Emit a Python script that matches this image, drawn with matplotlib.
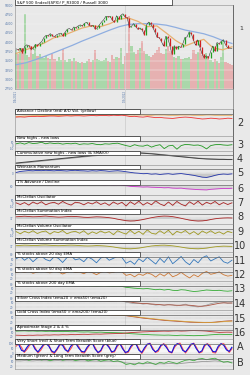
import numpy as np
import matplotlib
matplotlib.use("Agg")
import matplotlib.pyplot as plt
from matplotlib.patches import Rectangle

# weekly S&P 500 closes, Jan 2021 - Dec 2022
closes = [3825, 3801, 3841, 3714, 3887, 3934, 3907, 3811, 3842, 3943, 3913, 3975,
          4019, 4128, 4185, 4180, 4233, 4174, 4156, 4204, 4230, 4247, 4167, 4281, 4352,
          4369, 4327, 4411, 4395, 4437, 4468, 4441, 4509, 4535, 4458, 4433, 4455, 4357,
          4391, 4471, 4545, 4605, 4698, 4683, 4698, 4595, 4538, 4712, 4620, 4725, 4766,
          4677, 4662, 4398, 4432, 4500, 4419, 4349, 4385, 4329, 4204, 4463, 4543,
          4488, 4392, 4272, 4132, 4123, 4023, 3901, 4158, 4108, 3901, 3675, 3912,
          3825, 3899, 3863, 3962, 4130, 4145, 4280, 4228, 4058, 3924, 4067, 3873, 3693, 3586,
          3640, 3583, 3752, 3901, 3771, 3993, 3965, 4026, 4071, 3934, 3852, 3844, 3839]
volume = [8.5, 7.8, 9.0, 9.0, 16.5, 7.5, 7.0, 9.5, 7.8, 8.8, 7.2, 7.6, 7.0, 6.8, 7.3, 6.9, 6.5,
          7.8, 6.6, 6.2, 7.0, 6.4, 8.9, 6.3, 6.0, 6.5, 6.1, 6.8, 6.2, 6.0, 5.8, 6.0, 5.7, 6.2,
          6.6, 6.0, 6.4, 8.5, 6.5, 6.3, 6.1, 6.4, 6.8, 6.2, 6.0, 7.5, 6.6, 7.0, 6.8, 9.0, 5.5,
          7.2, 8.0, 16.0, 9.5, 8.2, 7.8, 8.5, 9.0, 10.5, 8.4, 7.8, 7.2, 7.0, 7.5, 8.0, 8.6, 9.2,
          8.0, 7.6, 8.8, 9.5, 8.4, 7.8, 7.0, 6.8, 7.2, 6.6, 6.5, 6.8, 6.9, 7.0, 6.6, 8.6, 7.8,
          8.2, 8.9, 7.5, 7.8, 7.9, 7.2, 6.4, 6.0, 6.5, 6.2, 5.8, 7.0, 10.5, 6.0, 5.8, 5.6, 5.2]
# monthly moving averages
ma50 = [3700, 3800, 3880, 3980, 4120, 4180, 4280, 4380, 4440, 4420, 4500, 4620,
        4650, 4560, 4420, 4440, 4250, 4050, 3900, 4000, 4080, 3850, 3800, 3880]
ma200 = [3400, 3450, 3530, 3620, 3720, 3820, 3920, 4030, 4130, 4230, 4330, 4420,
         4480, 4500, 4500, 4490, 4460, 4400, 4330, 4280, 4230, 4150, 4050, 3970]
price_ticks = [2750, 3000, 3250, 3500, 3750, 4000, 4250, 4500, 4750, 5000]
date_labels = ["1/4/2021", "1/3/2022"]

ad_vol = [73, 73, 74, 74, 75, 75, 75, 76, 76, 76, 76, 77, 77, 77, 77, 77, 78, 78, 78, 78, 78, 78, 79, 79, 79, 79,
          78, 78, 78, 78, 78, 77, 77, 78, 78, 78, 77, 77, 77, 78, 78, 78, 77, 77, 77, 78, 78, 77, 77, 77, 77, 77]
ad_line = [70, 71, 70, 72, 72, 73, 72, 73, 74, 74, 73, 74, 75, 74, 75, 75, 74, 75, 76, 75, 76, 76, 75, 77, 76, 77,
           75, 72, 73, 71, 70, 72, 70, 68, 69, 67, 66, 65, 67, 69, 70, 69, 67, 65, 63, 64, 66, 65, 63, 64, 66, 65]
nhnl = [20, 35, 15, 40, 25, 30, 45, 20, 35, 25, 30, 15, 25, 20, 30, 10, 20, 15, 25, 10, 5, 20, 15, 25, 30, 10,
        -10, -25, 5, -15, -20, 0, -35, -10, 5, -60, -15, -5, -70, -10, 10, 5, -5, 0, -20, -65, -10, 5, 10, 0, -5, 5]
cum_nhnl = [14, 17, 20, 23, 26, 29, 32, 35, 38, 41, 44, 47, 50, 53, 56, 59, 62, 65, 68, 71, 74, 77, 80, 83, 86, 89,
            89, 88, 87, 86, 84, 82, 80, 77, 74, 71, 68, 65, 62, 59, 56, 53, 50, 47, 45, 43, 42, 41, 40, 40, 39, 39]
cum_sma = [10, 13, 16, 19, 22, 25, 28, 31, 34, 37, 40, 43, 46, 49, 52, 55, 58, 61, 64, 67, 70, 73, 76, 79, 82, 85,
           87, 88, 88, 87, 86, 84, 82, 79, 76, 73, 70, 67, 64, 61, 58, 55, 52, 49, 47, 45, 43, 42, 41, 41, 40, 40]
weinstein = [5, 12, 15, 18, 16, 19, 17, 20, 18, 16, 19, 17, 15, 18, 20, 17, 16, 14, 17, 15, 18, 16, 13, 15, 17, 14,
             10, 6, 2, 0, -3, -2, -6, -4, -8, -5, -3, -7, -4, -2, -6, -10, -14, -20, -26, -28, -22, -14, -8, -5, -7, -4]
adv1 = [80, 78, 79, 77, 78, 76, 77, 75, 76, 74, 75, 73, 74, 72, 73, 71, 72, 70, 71, 69, 70, 68, 69, 67, 68, 66,
        62, 58, 56, 55, 53, 54, 52, 51, 50, 48, 49, 46, 45, 46, 42, 40, 38, 36, 35, 34, 38, 40, 42, 44, 43, 45]
mcclellan = [10, -20, 15, -30, 25, -10, 30, -25, 5, 20, -15, 35, -5, -30, 20, 10, -25, 15, -10, 30, -20, 10, -35, 25,
             -15, 20, -45, 30, -20, 40, -30, 15, -25, 45, -10, -40, 25, -35, 35, -15, -45, 30, -20, 40, -30, 20,
             -10, 35, -25, 15, -20, 10]
summation = [48, 50, 52, 50, 48, 49, 51, 53, 50, 48, 46, 47, 49, 51, 50, 48, 45, 44, 46, 48, 47, 45, 42, 38, 32, 27,
             22, 20, 21, 25, 30, 36, 42, 47, 51, 53, 52, 49, 44, 38, 32, 26, 22, 20, 21, 24, 30, 35, 38, 40, 41, 40]
vol_osc = [15, -25, 20, -10, 30, -20, 10, 25, -30, 15, -5, 35, -25, 5, 20, -15, 30, -35, 10, -20, 25, -10, 15, -40,
           30, -5, -30, 40, -25, 20, -35, 45, -15, -30, 30, -20, 40, -45, 20, -10, 35, -30, 15, -40, 25, -15, 30,
           -20, 10, -30, 20, -5]
vol_sum = [45, 47, 49, 48, 46, 47, 49, 50, 48, 46, 45, 46, 48, 49, 48, 46, 44, 43, 44, 46, 45, 43, 40, 36, 31, 27,
           24, 23, 25, 28, 33, 38, 43, 46, 48, 49, 47, 44, 40, 35, 30, 26, 24, 23, 25, 28, 33, 37, 40, 42, 41, 40]
above20 = [55, 70, 45, 65, 35, 60, 72, 50, 40, 68, 58, 30, 62, 74, 48, 55, 35, 66, 52, 28, 60, 70, 45, 58, 72, 64,
           25, 40, 18, 55, 35, 65, 42, 20, 58, 30, 68, 22, 45, 70, 35, 15, 50, 28, 62, 75, 40, 55, 68, 35, 25, 45]
above50 = [60, 68, 62, 70, 55, 64, 72, 66, 58, 70, 65, 50, 62, 72, 60, 64, 52, 68, 60, 45, 62, 70, 58, 62, 72, 66,
           40, 48, 30, 50, 40, 58, 48, 28, 52, 35, 60, 30, 42, 62, 40, 22, 45, 30, 55, 68, 48, 55, 65, 45, 35, 40]
above200 = [70, 72, 73, 74, 72, 73, 75, 74, 73, 72, 73, 71, 72, 73, 71, 70, 68, 69, 67, 66, 67, 68, 66, 65, 66, 64,
            58, 55, 52, 50, 48, 50, 46, 42, 45, 40, 44, 38, 36, 42, 40, 34, 30, 32, 36, 40, 38, 36, 38, 34, 32, 35]
silver = [75, 72, 74, 70, 73, 76, 72, 74, 71, 70, 73, 69, 72, 74, 70, 71, 67, 70, 68, 64, 66, 69, 65, 67, 70, 66,
          55, 50, 45, 48, 42, 46, 40, 35, 38, 33, 40, 36, 30, 35, 42, 30, 25, 22, 28, 35, 45, 52, 58, 55, 48, 50]
silver_ema = [72, 72, 73, 72, 72, 73, 73, 73, 72, 72, 72, 71, 71, 72, 71, 71, 70, 69, 69, 67, 67, 67, 66, 66, 67, 66,
              62, 57, 52, 49, 46, 45, 43, 40, 38, 36, 37, 36, 34, 34, 36, 34, 31, 27, 27, 30, 36, 42, 48, 51, 50, 50]
gold = [82, 82, 81, 81, 80, 80, 80, 79, 79, 78, 78, 77, 77, 76, 75, 75, 74, 73, 72, 71, 70, 69, 68, 67, 66, 65,
        62, 58, 54, 50, 46, 43, 40, 37, 34, 31, 29, 27, 25, 23, 21, 19, 18, 17, 16, 16, 17, 19, 22, 25, 27, 28]
gold_ema = [80, 80, 80, 80, 79, 79, 79, 79, 78, 78, 77, 77, 76, 76, 75, 75, 74, 73, 72, 71, 70, 69, 68, 67, 66, 65,
            63, 60, 57, 53, 49, 46, 43, 40, 37, 34, 32, 30, 28, 26, 24, 22, 20, 19, 18, 17, 17, 18, 20, 22, 24, 26]
stage2 = [62, 63, 64, 62, 63, 61, 62, 60, 61, 59, 60, 58, 59, 57, 58, 56, 55, 56, 54, 53, 54, 52, 51, 50, 49, 48,
          45, 42, 40, 38, 36, 35, 33, 32, 31, 30, 31, 29, 28, 30, 29, 27, 26, 27, 28, 30, 33, 35, 37, 36, 35, 36]
stage4 = [30, 29, 28, 30, 29, 31, 30, 32, 31, 33, 32, 34, 33, 35, 34, 36, 37, 36, 38, 39, 38, 40, 41, 42, 43, 44,
          47, 50, 52, 54, 56, 57, 59, 60, 61, 62, 61, 63, 64, 62, 63, 65, 66, 65, 64, 62, 58, 55, 52, 53, 54, 53]
short_blue = [90, 85, 30, 20, 60, 95, 90, 40, 15, 50, 85, 95, 70, 25, 10, 45, 90, 80, 35, 20, 70, 95, 90, 50, 20, 15,
              60, 90, 95, 40, 10, 30, 85, 90, 60, 15, 25, 80, 95, 45, 10, 20, 70, 95, 85, 30, 10, 55, 90, 95, 40, 15,
              35, 80, 90, 60, 20, 10, 75, 95, 85, 30, 15, 50, 90, 95, 45, 10, 25, 85, 90, 60, 20, 15, 70, 95, 80, 35,
              20, 60]
vshort_red = [70, 95, 60, 10, 40, 80, 100, 55, 5, 30, 75, 100, 85, 15, 0, 35, 80, 95, 50, 10, 45, 90, 100, 65, 10, 5,
              45, 85, 100, 55, 5, 20, 75, 100, 70, 10, 15, 65, 100, 60, 5, 10, 55, 90, 95, 45, 0, 40, 85, 100, 55, 10,
              20, 70, 95, 75, 15, 5, 60, 90, 100, 45, 5, 40, 80, 100, 60, 5, 15, 70, 95, 75, 10, 5, 55, 90, 95, 50,
              10, 45]
medium_green = [68, 62, 70, 58, 65, 72, 60, 66, 55, 63, 70, 58, 64, 68, 56, 62, 66, 54, 60, 64, 52, 58, 62, 50, 55, 46,
                30, 36, 28, 42, 35, 48, 40, 30, 45, 38, 50, 44, 36, 48, 58, 62, 55, 66, 70, 62, 68, 72, 58, 45, 50, 40]
long_grey = [55, 54, 56, 55, 54, 56, 55, 55, 54, 55, 56, 54, 55, 55, 53, 54, 54, 52, 53, 53, 51, 52, 52, 50, 50, 47,
             40, 38, 35, 36, 34, 37, 36, 33, 35, 34, 37, 36, 34, 37, 40, 43, 44, 47, 50, 50, 52, 54, 52, 48, 47, 45]

BG = "#e9e9e9"
TICK = "#5577aa"
W_PX, H_PX = 250, 375
LEFT, RIGHT = 15, 233
nweeks = len(closes)
year_mark = 51

fig = plt.figure(figsize=(2.5, 3.75), dpi=100, facecolor=BG)


def axes_px(top, bot):
    return fig.add_axes([LEFT / W_PX, 1 - bot / H_PX, (RIGHT - LEFT) / W_PX, (bot - top) / H_PX])


def xs(vals):
    return np.linspace(0, nweeks - 1, len(vals))


def style(ax):
    ax.set_facecolor(BG)
    ax.set_xlim(-0.5, nweeks - 0.5)
    ax.set_xticks([])
    for s in ax.spines.values():
        s.set_color("#888888")
        s.set_linewidth(0.4)
    ax.spines["right"].set_color("#666666")
    ax.spines["right"].set_linewidth(0.7)
    ax.axvline(year_mark, color="#cfcfcf", lw=0.6, zorder=0)
    ax.tick_params(length=0, labelsize=2, colors=TICK, pad=1)


def panel(top, bot, title, label, ylim, ticks=()):
    ax = axes_px(top, bot)
    style(ax)
    ax.set_ylim(*ylim)
    ax.set_yticks(list(ticks))
    ax.set_yticklabels([str(t) for t in ticks])
    ax.grid(axis="y", ls=":", lw=0.3, color="#999999")
    tab = 4.5 / (bot - top)
    ax.add_patch(Rectangle((0, 1 - tab), 0.573, tab, transform=ax.transAxes,
                           fc="white", ec="#222222", lw=0.5, zorder=5, clip_on=False))
    ax.plot([0.573, 1], [1 - tab, 1 - tab], transform=ax.transAxes, color="#666666", lw=0.5, zorder=5)
    ax.text(0.01, 1 - tab / 2, title, transform=ax.transAxes, fontsize=2.8, va="center", zorder=6)
    fig.text(240 / W_PX, 1 - ((top + bot) / 2 + 1) / H_PX, label, fontsize=7, color="#333333",
             ha="center", va="center")
    return ax


# ---- main price panel ----
ax = axes_px(5, 89)
style(ax)
ax.set_ylim(2750, 5000)
ax.set_yticks(price_ticks)
ax.tick_params(labelright=True, labelsize=2.3)
ax.grid(axis="both", color="#f6f6f6", lw=0.3)

vax = ax.twinx()
vax.set_ylim(0, 18.5)
vax.set_yticks([])
for s in vax.spines.values():
    s.set_visible(False)
xw = np.arange(nweeks)
prev = [closes[0]] + closes[:-1]
up = np.array(closes) >= np.array(prev)
vax.bar(xw, volume, width=1.0, color=np.where(up, "#9fd49f", "#e6a8a8"), alpha=0.85, lw=0)
vax.set_zorder(ax.get_zorder() - 1)
ax.patch.set_visible(False)
vax.patch.set_facecolor(BG)
vax.patch.set_visible(True)

mx = np.linspace(0, nweeks - 1, len(ma50))
ax.plot(mx, ma200, color="#8faee0", lw=0.9)
ax.plot(mx, ma50, color="#e8b070", lw=0.9)
ax.plot(xw, closes, color="#222222", lw=0.35)
ax.vlines(xw, prev, closes, colors=np.where(up, "#22a022", "#d02020"), lw=0.9)
ax.add_patch(Rectangle((0, 1.0), 157 / 218, 6 / 84, transform=ax.transAxes,
                       fc="white", ec="#222222", lw=0.5, zorder=5, clip_on=False))
ax.text(0.01, 1.0 + 3 / 84, "S&P 500 (Index/$SPX)/ P_R3000 / Russell 3000", transform=ax.transAxes,
        fontsize=2.8, va="center", zorder=6)
fig.text(241 / W_PX, 1 - 28 / H_PX, "1", fontsize=4.5, color="#333333", ha="center", va="center")
fig.text(16 / W_PX, 1 - 90 / H_PX, date_labels[0], rotation=90, fontsize=2, color=TICK, ha="center", va="top")
fig.text(125 / W_PX, 1 - 90 / H_PX, date_labels[1], rotation=90, fontsize=2, color=TICK, ha="center", va="top")
fig.add_artist(plt.Line2D([125 / W_PX] * 2, [1 - 108 / H_PX, 1 - 89 / H_PX], color="#cfcfcf", lw=0.6))
fig.add_artist(plt.Line2D([RIGHT / W_PX] * 2, [1 - 108 / H_PX, 1 - 89 / H_PX], color="#888888", lw=0.6))

# ---- indicator panels ----
a = panel(109, 136, "Advance / Decline (red) A/D Vol. (yellow)", "2", (0, 100))
a.plot(xs(ad_vol), ad_vol, color="#e8a040", lw=0.6)
a.plot(xs(ad_line), ad_line, color="#ee3333", lw=0.6)

a = panel(136, 151, "New highs - new lows", "3", (-100, 150), (-50, 0, 50))
a.plot(xs(nhnl), nhnl, color="#229922", lw=0.6)

a = panel(151, 165, "Cummulative new highs - new lows (& SMA(0))", "4", (0, 100))
a.plot(xs(cum_sma), cum_sma, color="#999999", lw=0.7)
a.plot(xs(cum_nhnl), cum_nhnl, color="#444444", lw=0.7)

a = panel(165, 180, "Weinstein Momentum", "5", (-45, 55), (0,))
a.fill_between(xs(weinstein), weinstein, 0, color="#bbbbbb", alpha=0.7, lw=0)
a.plot(xs(weinstein), weinstein, color="#2233aa", lw=0.6)

a = panel(180, 195, "1% Advance / Decline", "6", (0, 100), (60,))
a.fill_between(xs(adv1), adv1, 60, color="#cccccc", alpha=0.7, lw=0)
a.plot(xs(adv1), adv1, color="#cc33cc", lw=0.6)

a = panel(195, 209, "McClellan Oscillator", "7", (-100, 150), (-50, 0, 50))
a.fill_between(xs(mcclellan), mcclellan, 0, color="#cccccc", alpha=0.6, lw=0)
a.plot(xs(mcclellan), mcclellan, color="#aa2222", lw=0.6)

a = panel(209, 224, "McClellan Summation Index", "8", (0, 100), (37,))
a.fill_between(xs(summation), summation, 37, color="#bbbbbb", alpha=0.6, lw=0)
a.plot(xs(summation), summation, color="#aa2222", lw=0.6)

a = panel(224, 238, "McClellan Volume Oscillator", "9", (-100, 150), (-50, 0, 50))
a.fill_between(xs(vol_osc), vol_osc, 0, color="#cccccc", alpha=0.6, lw=0)
a.plot(xs(vol_osc), vol_osc, color="#a09a20", lw=0.6)

a = panel(238, 252, "McClellan Volume Summation Index", "10", (0, 100), (37,))
a.fill_between(xs(vol_sum), vol_sum, 37, color="#bbbbbb", alpha=0.6, lw=0)
a.plot(xs(vol_sum), vol_sum, color="#a09a20", lw=0.6)

a = panel(252, 267, "% stocks above 20 day EMA", "11", (0, 100), (20, 50, 80))
a.plot(xs(above20), above20, color="#3377bb", lw=0.6)

a = panel(267, 281, "% stocks above 50 day EMA", "12", (0, 100), (20, 50, 80))
a.plot(xs(above50), above50, color="#cc7733", lw=0.6)

a = panel(281, 296, "% stocks above 200 day EMA", "13", (0, 100), (20, 50, 80))
a.plot(xs(above200), above200, color="#33aa33", lw=0.6)

a = panel(296, 310, "Silver Cross Index (ema20 > ema50) (ema20)", "14", (0, 100), (20, 50, 80))
a.plot(xs(silver), silver, color="#999999", lw=0.5)
a.plot(xs(silver_ema), silver_ema, color="#aa5544", lw=0.6)

a = panel(310, 325, "Gold Cross Index (ema50 > ema200) (ema20)", "15", (0, 100), (20, 50, 80))
a.plot(xs(gold), gold, color="#aa4433", lw=0.6)
a.plot(xs(gold_ema), gold_ema, color="#ddaa33", lw=0.5)

a = panel(325, 339, "Aproximate Stage 2 & 4 %", "16", (0, 110), (20, 50, 80))
a.plot(xs(stage2), stage2, color="#33aa33", lw=0.6)
a.plot(xs(stage4), stage4, color="#bb3333", lw=0.6)

a = panel(339, 354, "Very Short (red) & Short Term Breadth Score (blue)", "A", (-5, 140), (0, 50, 100))
a.set_facecolor("#f6f6f6")
a.plot(xs(vshort_red), vshort_red, color="#ff5555", lw=0.8)
a.plot(xs(short_blue), short_blue, color="#1111dd", lw=0.8)

a = panel(354, 369, "Medium (green) & Long Term Breadth Score (grey)", "B", (0, 100), (20, 50, 80))
a.plot(xs(long_grey), long_grey, color="#999999", lw=0.6)
a.plot(xs(medium_green), medium_green, color="#44aa44", lw=0.6)

fig.savefig("out.png", dpi=100, facecolor=BG)
